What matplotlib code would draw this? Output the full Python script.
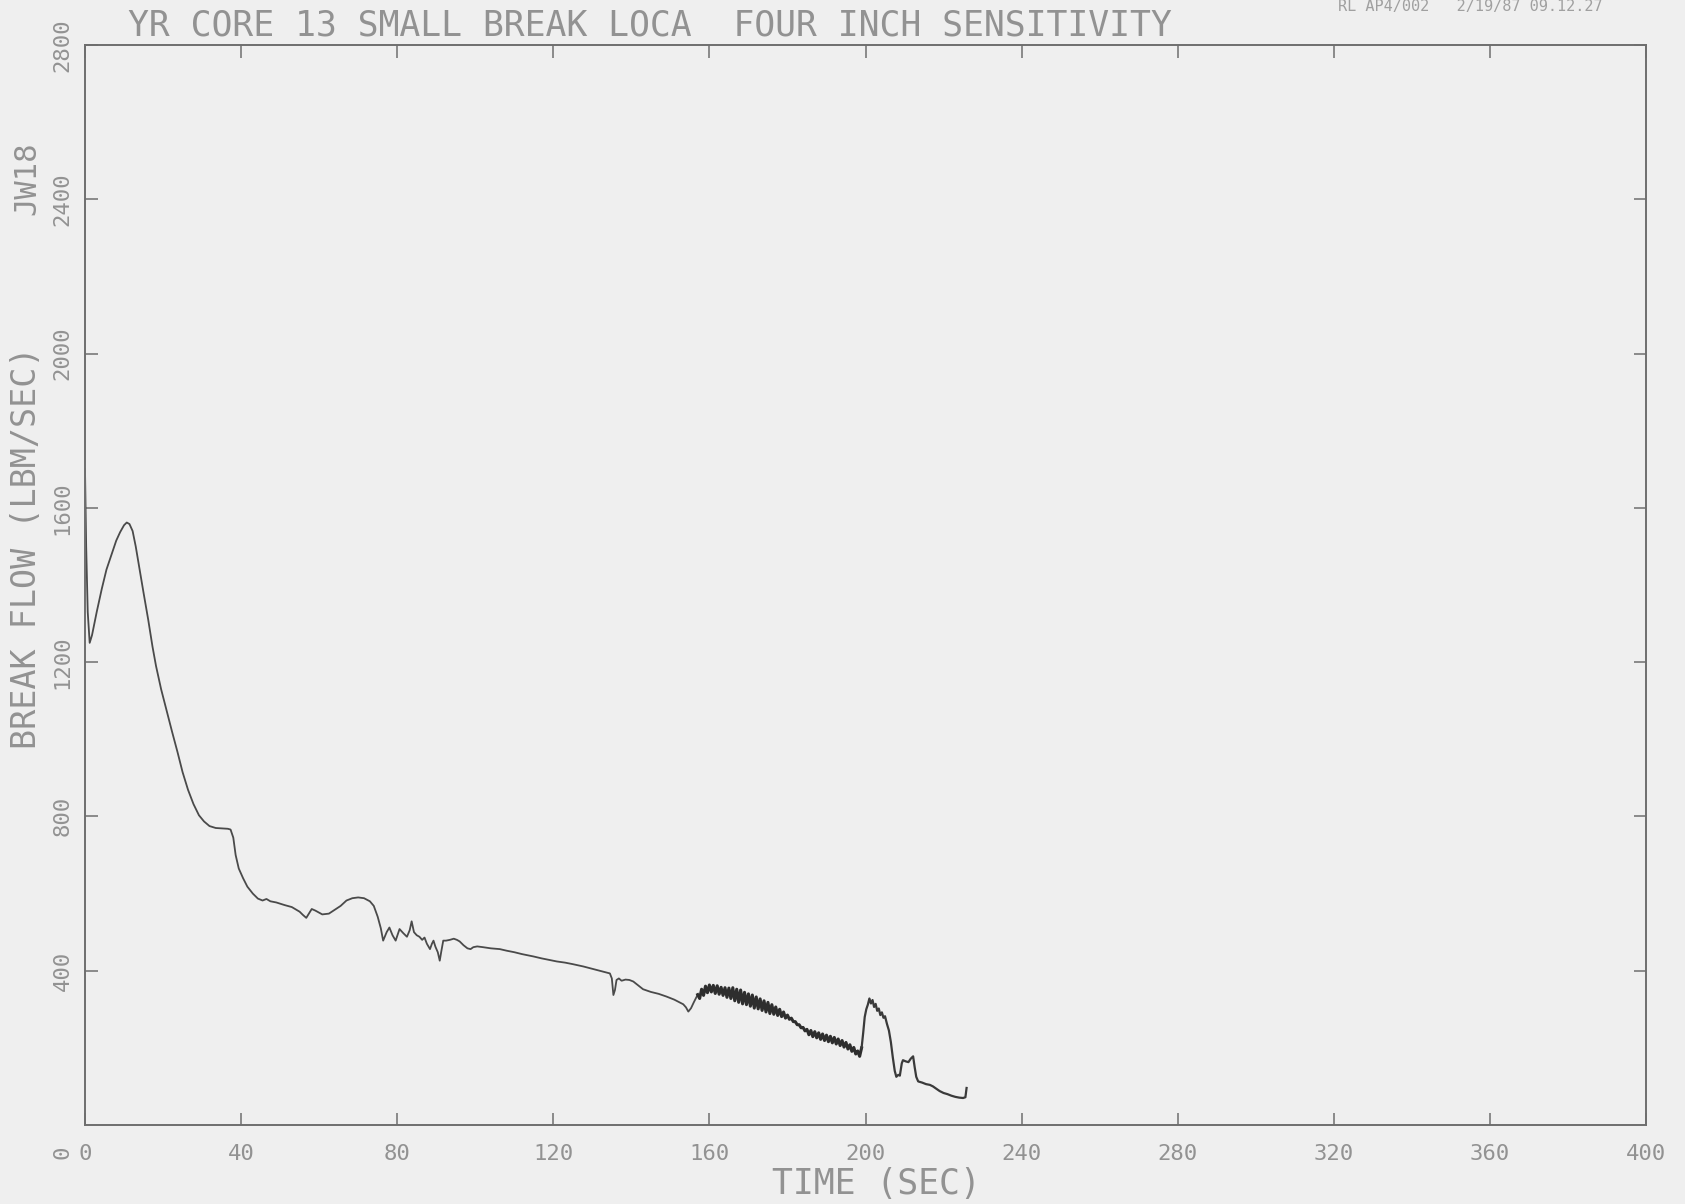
import matplotlib
matplotlib.use("Agg")
import matplotlib.pyplot as plt

# ---------------- data ----------------
time_main = [0.0, 0.3, 0.7, 1.2, 1.8, 3.0, 4.3, 5.5, 6.9, 8.0, 9.0, 10.0, 10.7, 11.4,
             12.2, 13.0, 14.0, 15.0, 16.2, 17.3, 18.2, 19.5, 20.9, 22.3, 23.7, 25.0,
             26.4, 27.8, 29.2, 30.5, 31.9, 33.5, 35.0, 36.6, 37.3, 38.0, 38.6, 39.4,
             40.5, 41.6, 43.0, 44.3, 45.5, 46.5, 47.5, 49.0, 51.2, 53.0, 55.0, 55.8,
             56.7, 57.5, 58.1, 59.0, 60.8, 62.5, 64.0, 65.5, 67.0, 68.5, 70.0, 71.5,
             73.0, 74.0, 75.0, 75.8, 76.4, 77.3, 78.0, 78.8, 79.6, 80.6, 81.5, 82.5,
             83.2, 83.7, 84.3, 85.0, 85.7, 86.4, 87.0, 87.6, 88.4, 88.9, 89.3, 89.8,
             90.4, 90.9, 91.3, 91.8, 92.5, 93.5, 94.5, 95.3, 96.0, 97.0, 98.0, 98.8,
             99.5, 100.5, 102.0, 104.0, 106.3, 108.0, 110.0, 112.0, 114.9, 117.0,
             119.0, 120.9, 123.0, 125.0, 127.7, 130.0, 132.0, 134.5, 135.0, 135.4,
             135.8, 136.2, 136.8, 137.5, 138.5, 139.5, 140.5, 141.5, 143.0, 145.0,
             147.0, 149.0, 151.0, 153.3, 154.0, 154.6, 155.3, 156.0, 156.5, 157.0]
flow_main = [1700, 1500, 1330, 1250, 1270, 1330, 1390, 1440, 1482, 1515, 1537, 1555, 1562, 1558,
             1540, 1500, 1440, 1380, 1310, 1240, 1190, 1130, 1075, 1020, 967, 915,
             869, 832, 803, 787, 775, 770, 769, 768, 766, 745, 700, 665,
             640, 618, 600, 587, 582, 586, 580, 577, 570, 565, 553, 545,
             537, 550, 560, 556, 546, 548, 558, 568, 582, 588, 590, 588,
             580, 568, 540, 510, 478, 500, 512, 492, 478, 508, 498, 488,
             505, 528, 500, 492, 488, 480, 486, 470, 456, 470, 478, 462,
             448, 426, 450, 478, 478, 480, 483, 480, 476, 466, 458, 456,
             461, 463, 461, 458, 456, 452, 448, 443, 437, 432,
             428, 424, 421, 417, 411, 405, 400, 393, 380, 337,
             350, 376, 380, 374, 377, 376, 372, 364, 352, 345,
             340, 333, 325, 313, 305, 294, 303, 318, 328, 338]

time_noisy = [157.0, 157.5, 158.0, 158.5, 159.0, 159.5, 160.0, 160.5, 161.0, 161.5,
              162.0, 162.5, 163.0, 163.5, 164.0, 164.5, 165.0, 165.5, 166.0, 166.5,
              167.0, 167.5, 168.0, 168.5, 169.0, 169.5, 170.0, 170.5, 171.0, 171.5,
              172.0, 172.5, 173.0, 173.5, 174.0, 174.5, 175.0, 175.5, 176.0, 176.5,
              177.0, 177.5, 178.0, 178.5, 179.0, 179.5, 180.0, 180.5, 181.0, 181.5,
              182.0, 182.5, 183.0, 183.5, 184.0, 184.5, 185.0, 185.5, 186.0, 186.5,
              187.0, 187.5, 188.0, 188.5, 189.0, 189.5, 190.0, 190.5, 191.0, 191.5,
              192.0, 192.5, 193.0, 193.5, 194.0, 194.5, 195.0, 195.5, 196.0, 196.5,
              197.0, 197.5, 198.0, 198.5, 199.0]
flow_noisy = [338, 328, 352, 336, 360, 343, 363, 345, 362, 341,
              361, 339, 357, 336, 356, 331, 355, 328, 356, 322,
              352, 318, 350, 314, 344, 312, 340, 308, 337, 303,
              332, 301, 327, 297, 322, 293, 318, 289, 312, 287,
              306, 284, 300, 281, 293, 277, 285, 274, 277, 268,
              268, 260, 260, 252, 253, 244, 248, 234, 245, 229,
              242, 226, 239, 222, 236, 219, 233, 216, 230, 213,
              227, 210, 223, 206, 219, 202, 214, 197, 208, 191,
              201, 184, 192, 178, 200]

time_tail = [199.0, 199.4, 199.8, 200.2, 200.6, 201.0, 201.4, 201.8, 202.2, 202.6,
             203.0, 203.4, 203.8, 204.2, 204.6, 205.0, 205.5, 206.0, 206.5, 207.0,
             207.5, 207.9, 208.4, 208.8, 209.3, 209.6, 210.3, 211.0, 211.6, 212.2,
             212.6, 213.0, 213.5, 214.5, 215.5, 216.5, 217.3, 218.0, 219.0, 220.0,
             221.0, 222.0, 223.0, 224.0, 225.0, 225.6, 225.9]
flow_tail = [200, 238, 280, 300, 312, 328, 315, 324, 306, 314,
             296, 302, 285, 292, 278, 282, 262, 245, 215, 175,
             140, 125, 130, 128, 160, 168, 165, 163, 172, 178,
             150, 125, 113, 110, 106, 104, 100, 95, 88, 83,
             80, 76, 73, 71, 70, 72, 96]

x_ticks = [0, 40, 80, 120, 160, 200, 240, 280, 320, 360, 400]
x_tick_labels = ["0", "40", "80", "120", "160", "200", "240", "280", "320", "360", "400"]
y_ticks = [400, 800, 1200, 1600, 2000, 2400, 2800]
y_tick_labels = ["400", "800", "1200", "1600", "2000", "2400", "2800"]

title_text = "YR CORE 13 SMALL BREAK LOCA  FOUR INCH SENSITIVITY"
x_label = "TIME (SEC)"
y_label = "BREAK FLOW (LBM/SEC)"
run_id = "JW18"
stamp_text = "RL AP4/002   2/19/87 09.12.27"

# ---------------- figure ----------------
W, H = 1685, 1204
bg = "#efefef"
txt = "#929292"
mono = "DejaVu Sans Mono"

fig = plt.figure(figsize=(W / 100, H / 100), dpi=100, facecolor=bg)
ax = fig.add_axes([85 / W, 1 - 1125 / H, (1646 - 85) / W, (1125 - 45) / H])
ax.set_facecolor(bg)

ax.plot(time_main, flow_main, color="#4a4a4a", lw=1.3, solid_joinstyle="round")
ax.plot(time_noisy, flow_noisy, color="#2e2e2e", lw=2.2, solid_joinstyle="round")
ax.plot(time_tail, flow_tail, color="#3a3a3a", lw=1.6, solid_joinstyle="round")

ax.set_xlim(0, 400)
ax.set_ylim(0, 2800)
for s in ax.spines.values():
    s.set_color("#6e6e6e")
    s.set_linewidth(1.4)

ax.set_xticks(x_ticks)
ax.set_xticklabels(x_tick_labels, family=mono, fontsize=16, color=txt)
ax.set_yticks(y_ticks)
ax.set_yticklabels(y_tick_labels, family=mono, fontsize=16, color=txt,
                   rotation=90, va="center")
ax.tick_params(axis="both", direction="in", length=9, width=1.1, color="#6e6e6e",
               top=True, right=True)
ax.tick_params(axis="x", pad=14)
ax.tick_params(axis="y", pad=9)

# y "0" label at the origin (below the corner, like the reference)
fig.text(63 / W, 1 - 1152 / H, "0", family=mono, fontsize=16, color=txt,
         rotation=90, ha="center", va="center")

fig.text(128 / W, 1 - 25 / H, title_text, family=mono, fontsize=25, color=txt,
         ha="left", va="center")
fig.text(876 / W, 1 - 1184 / H, x_label, family=mono, fontsize=25, color=txt,
         ha="center", va="center")
fig.text(27 / W, 1 - 548 / H, y_label, family=mono, fontsize=24, color=txt,
         rotation=90, ha="center", va="center")
fig.text(27 / W, 1 - 178 / H, run_id, family=mono, fontsize=22, color=txt,
         rotation=90, ha="center", va="center")
fig.text(1338 / W, 1 - 6 / H, stamp_text, family=mono, fontsize=11, color="#a0a0a0",
         ha="left", va="center")

fig.savefig("out.png", dpi=100, facecolor=bg)
